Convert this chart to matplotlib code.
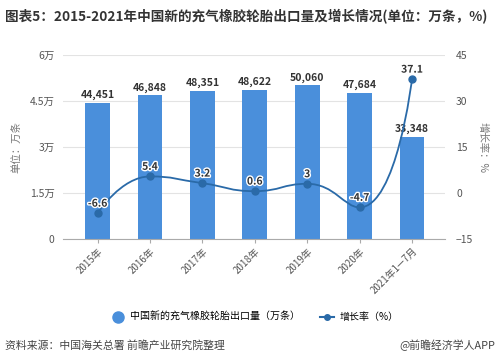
import numpy as np
import matplotlib
matplotlib.use("Agg")
import matplotlib.pyplot as plt
import matplotlib.patheffects as pe
from matplotlib.lines import Line2D
from matplotlib.path import Path
from matplotlib.patches import PathPatch

plt.rcParams['font.family'] = ['Noto Sans CJK SC', 'DejaVu Sans']

categories = ["2015年", "2016年", "2017年", "2018年", "2019年", "2020年", "2021年1—7月"]
export_volume = [44451, 46848, 48351, 48622, 50060, 47684, 33348]
growth_rate = [-6.6, 5.4, 3.2, 0.6, 3, -4.7, 37.1]
left_ticks = [0, 15000, 30000, 45000, 60000]
left_tick_labels = ["0", "1.5万", "3万", "4.5万", "6万"]
right_ticks = [-15, 0, 15, 30, 45]

bar_color = '#4A8FDB'
line_color = '#2A6AA8'

fig = plt.figure(figsize=(4.99, 3.61), dpi=100)
ax = fig.add_axes([63/499, 1-239/361, (445-63)/499, (239-55)/361])
ax2 = ax.twinx()

x = np.arange(len(categories))
ax.bar(x, export_volume, width=0.47, color=bar_color, zorder=2)
for xi, v in zip(x, export_volume):
    ax.text(xi, v + 900, f"{v:,}", ha='center', va='bottom', fontsize=7.5,
            fontweight='bold', color='#333333', zorder=5)

ax.set_ylim(0, 60000)
ax.set_xlim(-0.66, 6.63)
ax.set_yticks(left_ticks)
ax.set_yticklabels(left_tick_labels)
ax.grid(axis='y', color='#e3e3e3', linewidth=0.8, zorder=0)
ax.set_axisbelow(True)
ax.set_xticks(x)
ax.set_xticklabels(categories, rotation=45, ha='right', rotation_mode='anchor', fontsize=7, color='#555555')
ax.tick_params(axis='x', length=3, color='#aaaaaa', pad=2)
ax.tick_params(axis='y', length=0, labelsize=7.5, labelcolor='#555555', pad=6)
for s in ['top', 'right', 'left']:
    ax.spines[s].set_visible(False)
ax.spines['bottom'].set_color('#aaaaaa')
ax.set_ylabel("单位：万条", fontsize=7.5, color='#777777', labelpad=6)

ax2.set_ylim(-15, 45)
ax2.set_xlim(-0.66, 6.63)

# echarts-style clamped smooth bezier rendering in display space
pts = ax2.transData.transform(np.column_stack([x, growth_rate]).astype(float))
smooth = 0.5
n = len(pts)
cp_in = [None] * n
cp_out = [None] * n
cp_out[0] = pts[0].copy()
cp_in[n-1] = pts[n-1].copy()
for i in range(1, n-1):
    cur, prev, nxt = pts[i], pts[i-1], pts[i+1]
    v = nxt - prev
    lp = np.hypot(*(cur - prev)); ln = np.hypot(*(nxt - cur))
    rn = ln / (ln + lp)
    co = cur + v * smooth * rn
    co = np.minimum(co, np.maximum(nxt, cur)); co = np.maximum(co, np.minimum(nxt, cur))
    vv = co - cur
    ci = cur - vv * lp / ln
    ci = np.minimum(ci, np.maximum(prev, cur)); ci = np.maximum(ci, np.minimum(prev, cur))
    vv = cur - ci
    co = cur + vv * ln / lp
    cp_in[i], cp_out[i] = ci, co
verts = [tuple(pts[0])]
codes = [Path.MOVETO]
for i in range(n-1):
    verts += [tuple(cp_out[i]), tuple(cp_in[i+1]), tuple(pts[i+1])]
    codes += [Path.CURVE4] * 3
inv = ax2.transData.inverted()
verts_data = inv.transform(np.array(verts))
ax2.add_patch(PathPatch(Path(verts_data, codes), facecolor='none', edgecolor=line_color,
                        linewidth=1.3, zorder=3))
ax2.plot(x, growth_rate, 'o', color=line_color, markersize=5, zorder=4)
for xi, v in zip(x, growth_rate):
    ax2.text(xi, v + 1.5, f"{v:g}", ha='center', va='bottom', fontsize=7.5, fontweight='bold',
             color='#333333', zorder=6,
             path_effects=[pe.withStroke(linewidth=2, foreground='white')])
ax2.set_yticks(right_ticks)
ax2.tick_params(axis='y', length=0, labelsize=7.5, labelcolor='#555555', pad=8)
for s in ['top', 'right', 'left', 'bottom']:
    ax2.spines[s].set_visible(False)
ax2.set_ylabel("增长率：%", fontsize=7.5, color='#777777', rotation=270, labelpad=10)

# title
fig.text(5/499, 1-17/361, "图表5：2015-2021年中国新的充气橡胶轮胎出口量及增长情况(单位：万条，%)",
         fontsize=9.8, fontweight='bold', color='#333333', va='center', ha='left')

# legend
handles = [Line2D([], [], marker='o', linestyle='none', color=bar_color, markersize=8),
           Line2D([], [], marker='o', color=line_color, markersize=4, linewidth=1.5)]
fig.legend(handles, ["中国新的充气橡胶轮胎出口量（万条）", "增长率（%）"], loc='center',
           bbox_to_anchor=(255/499, 1-317/361), ncol=2, frameon=False, fontsize=7.2,
           handlelength=1.4, columnspacing=2.0, handletextpad=0.5)

fig.text(5/499, 1-345/361, "资料来源：中国海关总署 前瞻产业研究院整理", fontsize=7.8, color='#444444', va='center')
fig.text(495/499, 1-345/361, "@前瞻经济学人APP", fontsize=7.8, color='#444444', va='center', ha='right')

fig.savefig("out.png", dpi=100)
